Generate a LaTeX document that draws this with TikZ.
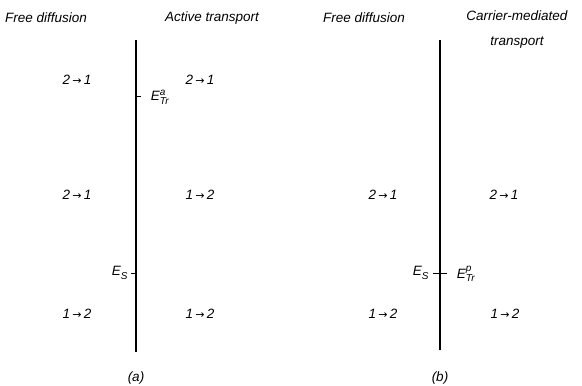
\documentclass[tikz,border=0pt]{standalone}
\usepackage{fontspec}
\setmainfont{Liberation Sans}
\newfontfamily\arrowfont{DejaVu Sans}
\newcommand{\Esub}[2]{E\ensuremath{_{\hbox{\fontsize{10}{11}\selectfont\itshape #1}}^{\hbox{\fontsize{10}{11}\selectfont\itshape #2}}}}
\newcommand{\ar}{\,{\arrowfont\fontsize{11}{12}\selectfont →}\,}
\begin{document}
\begin{tikzpicture}[x=1pt,y=-1pt,
  lbl/.style={font=\fontsize{13.5}{25}\selectfont\itshape, inner sep=0pt, align=center},
  membrane/.style={line width=1.3pt},
  tickline/.style={line width=0.8pt}]
\useasboundingbox (0,0) rectangle (582,386);
% panel (a)
\node[lbl] (fa) at (46,18) {Free diffusion};
\node[lbl] (ta) at (212,18) {Active transport};
\coordinate (atop) at (136,40);
\coordinate (abot) at (136,352);
\draw[membrane] (atop) -- (abot);
\coordinate (atr) at (136,96);
\coordinate (atrend) at (141,96);
\draw[tickline] (atr) -- (atrend);
\coordinate (aes) at (136,273);
\coordinate (aesend) at (131,273);
\draw[tickline] (aes) -- (aesend);
\node[lbl] (etra) at (160,97) {\Esub{Tr}{a}};
\node[lbl] (esa) at (120,273) {\Esub{S}{}};
\node[lbl] (a1l) at (77,80) {2\ar 1};
\node[lbl] (a1r) at (200,80) {2\ar 1};
\node[lbl] (a2l) at (77,195) {2\ar 1};
\node[lbl] (a2r) at (200,195) {1\ar 2};
\node[lbl] (a3l) at (77,314) {1\ar 2};
\node[lbl] (a3r) at (200,314) {1\ar 2};
\node[lbl] (capa) at (136,378) {(a)};
% panel (b)
\node[lbl] (fb) at (364,18) {Free diffusion};
\node[lbl] (tb) at (517,30) {Carrier-mediated\\transport};
\coordinate (btop) at (440,40);
\coordinate (bbot) at (440,350);
\draw[membrane] (btop) -- (bbot);
\coordinate (bl) at (433,273);
\coordinate (br) at (447,273);
\draw[tickline] (bl) -- (br);
\node[lbl] (esb) at (421,273) {\Esub{S}{}};
\node[lbl] (etrb) at (466,274) {\Esub{Tr}{p}};
\node[lbl] (b2l) at (383,195) {2\ar 1};
\node[lbl] (b2r) at (504,195) {2\ar 1};
\node[lbl] (b3l) at (383,314) {1\ar 2};
\node[lbl] (b3r) at (505,314) {1\ar 2};
\node[lbl] (capb) at (440,378) {(b)};
\end{tikzpicture}
\end{document}
